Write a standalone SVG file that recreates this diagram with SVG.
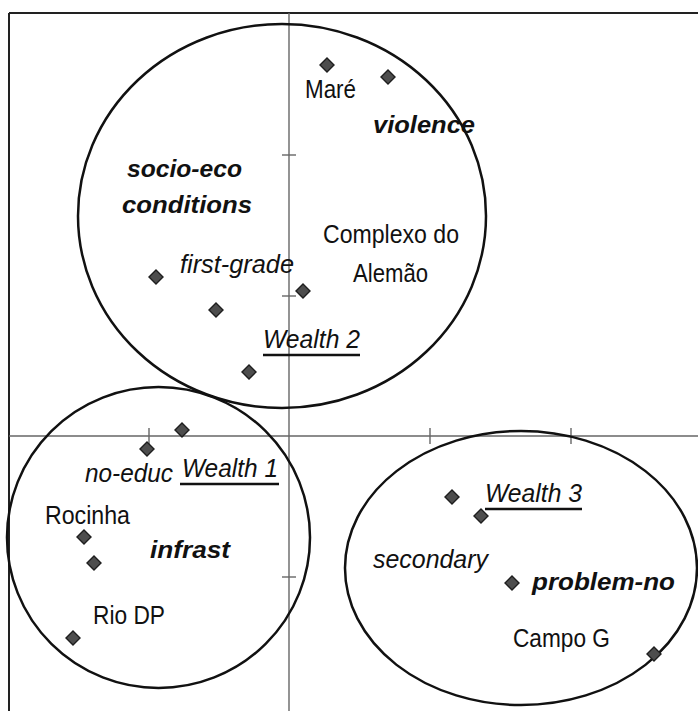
<svg xmlns="http://www.w3.org/2000/svg" xmlns:xlink="http://www.w3.org/1999/xlink" width="698" height="711" viewBox="0 0 698 711">
<style>
.frame{stroke:#222;stroke-width:2;fill:none}
.axis{stroke:#666;stroke-width:1.4;fill:none}
.ell{stroke:#111;stroke-width:2.5;fill:none}
.dm{fill:#4d4d4d;stroke:#1e1e1e;stroke-width:1.4}
text{font-family:"Liberation Sans",Arial,sans-serif;fill:#111}
.n{font-size:25px}
.i{font-size:26px;font-style:italic}
.b{font-size:24px;font-style:italic;font-weight:bold}
.ul{stroke:#111;stroke-width:2.5}
</style>
<defs>
<path id="d" class="dm" d="M0,-7 L7,0 L0,7 L-7,0 Z"/>
</defs>
<rect width="698" height="711" fill="#fff"/>
<g id="axes">
<line class="frame" x1="9" y1="13" x2="698" y2="13"/>
<line class="frame" x1="9" y1="13" x2="9" y2="711"/>
<line class="axis" x1="289" y1="13" x2="289" y2="711"/>
<line class="axis" x1="9" y1="436" x2="698" y2="436"/>
<line class="axis" x1="282" y1="155" x2="296" y2="155"/>
<line class="axis" x1="282" y1="296" x2="296" y2="296"/>
<line class="axis" x1="282" y1="577" x2="296" y2="577"/>
<line class="axis" x1="149" y1="428" x2="149" y2="444"/>
<line class="axis" x1="430" y1="428" x2="430" y2="444"/>
<line class="axis" x1="571" y1="428" x2="571" y2="444"/>
</g>
<g id="cluster-top">
<ellipse class="ell" cx="282" cy="216" rx="204" ry="192"/>
</g>
<g id="cluster-left">
<ellipse class="ell" cx="158.5" cy="537.5" rx="151.5" ry="150.5"/>
</g>
<g id="cluster-right">
<ellipse class="ell" cx="521" cy="568" rx="176" ry="137"/>
</g>
<g id="points">
<use xlink:href="#d" x="327" y="65"/>
<use xlink:href="#d" x="388" y="77"/>
<use xlink:href="#d" x="156" y="277"/>
<use xlink:href="#d" x="216" y="310"/>
<use xlink:href="#d" x="303" y="291"/>
<use xlink:href="#d" x="249" y="372"/>
<use xlink:href="#d" x="182" y="430"/>
<use xlink:href="#d" x="147" y="449"/>
<use xlink:href="#d" x="84" y="537"/>
<use xlink:href="#d" x="94" y="563"/>
<use xlink:href="#d" x="73" y="638"/>
<use xlink:href="#d" x="452" y="497"/>
<use xlink:href="#d" x="481" y="516"/>
<use xlink:href="#d" x="512" y="583"/>
<use xlink:href="#d" x="654" y="654"/>
</g>
<g id="labels">
<text class="n" x="305" y="98" textLength="51" lengthAdjust="spacingAndGlyphs">Maré</text>
<text class="b" x="373" y="133" textLength="102" lengthAdjust="spacingAndGlyphs">violence</text>
<text class="b" x="127" y="177" textLength="115" lengthAdjust="spacingAndGlyphs">socio-eco</text>
<text class="b" x="122" y="213" textLength="130" lengthAdjust="spacingAndGlyphs">conditions</text>
<text class="n" x="323" y="243" textLength="136" lengthAdjust="spacingAndGlyphs">Complexo do</text>
<text class="n" x="353" y="282" textLength="75" lengthAdjust="spacingAndGlyphs">Alemão</text>
<text class="i" x="180" y="273" textLength="114" lengthAdjust="spacingAndGlyphs">first-grade</text>
<text class="i" x="263" y="348" textLength="97" lengthAdjust="spacingAndGlyphs">Wealth 2</text>
<line class="ul" x1="263" y1="355" x2="360" y2="355"/>
<text class="i" x="85" y="482" textLength="88" lengthAdjust="spacingAndGlyphs">no-educ</text>
<text class="i" x="182" y="477" textLength="96" lengthAdjust="spacingAndGlyphs">Wealth 1</text>
<line class="ul" x1="180" y1="484" x2="279" y2="484"/>
<text class="n" x="45" y="524" textLength="85" lengthAdjust="spacingAndGlyphs">Rocinha</text>
<text class="b" x="150" y="558" textLength="80" lengthAdjust="spacingAndGlyphs">infrast</text>
<text class="n" x="93" y="624" textLength="72" lengthAdjust="spacingAndGlyphs">Rio DP</text>
<text class="i" x="485" y="502" textLength="97" lengthAdjust="spacingAndGlyphs">Wealth 3</text>
<line class="ul" x1="485" y1="509" x2="582" y2="509"/>
<text class="i" x="373" y="568" textLength="115" lengthAdjust="spacingAndGlyphs">secondary</text>
<text class="b" x="532" y="590" textLength="143" lengthAdjust="spacingAndGlyphs">problem-no</text>
<text class="n" x="513" y="647" textLength="97" lengthAdjust="spacingAndGlyphs">Campo G</text>
</g>
</svg>
